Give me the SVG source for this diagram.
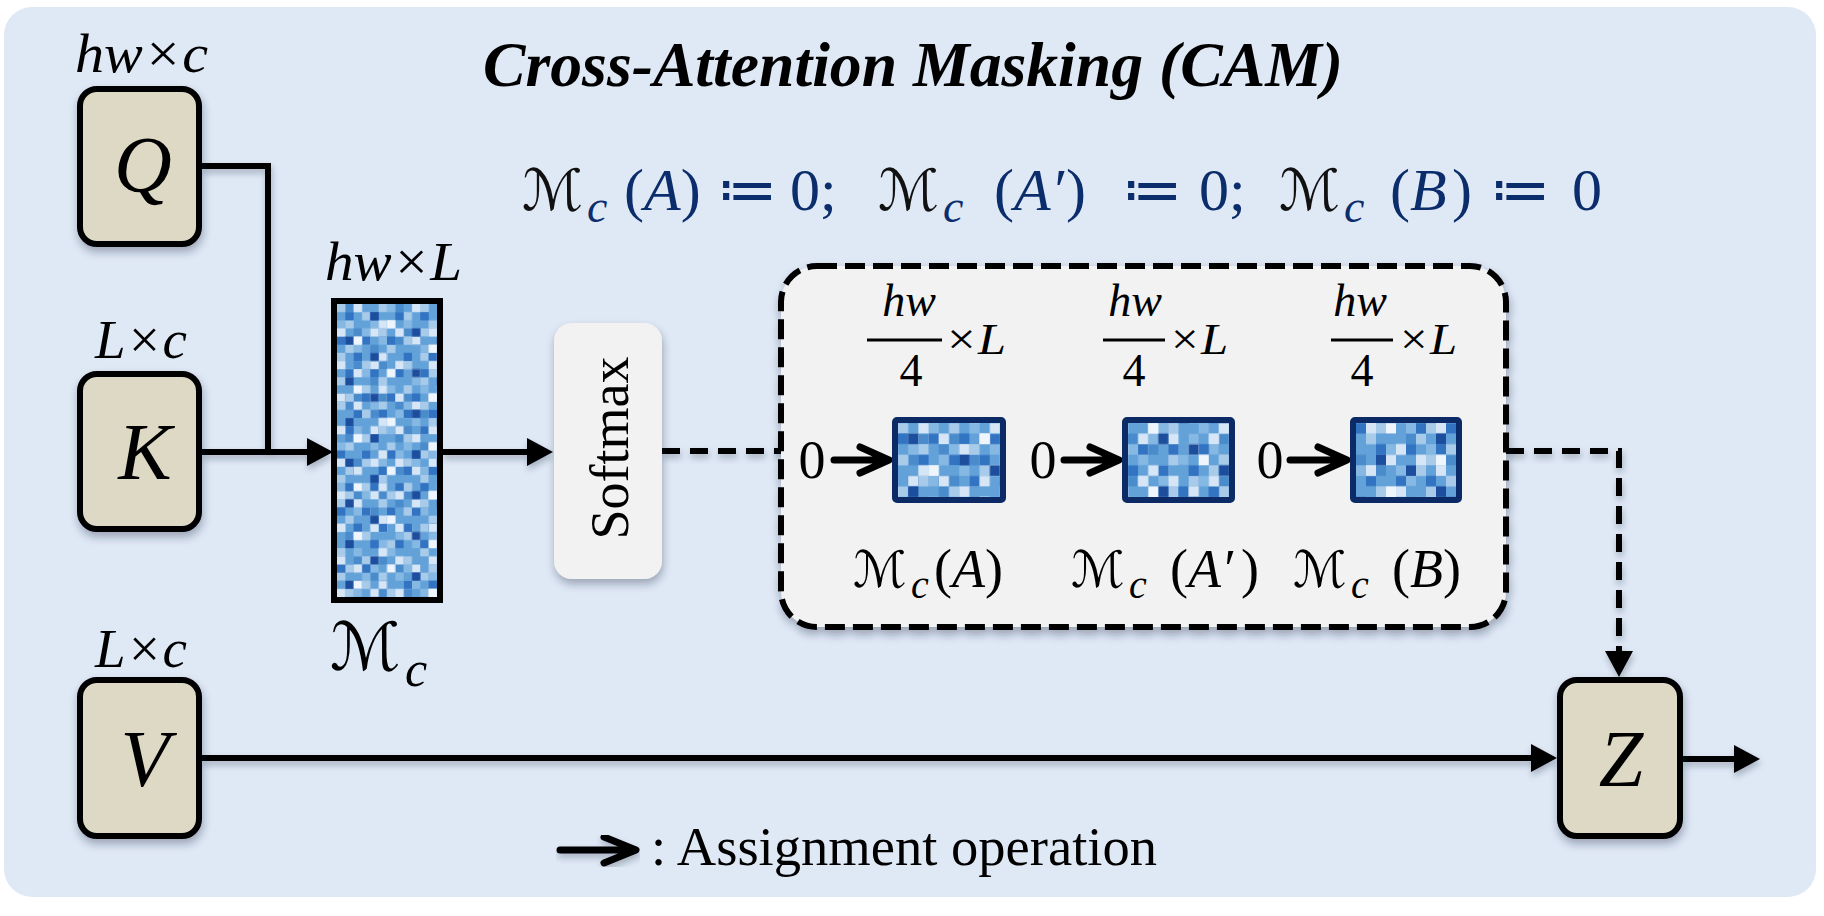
<svg xmlns="http://www.w3.org/2000/svg" width="1824" height="916" viewBox="0 0 1824 916">
<style>
.it{font-family:"Liberation Serif","Times New Roman",serif;font-style:italic}
.rm{font-family:"Liberation Serif","Times New Roman",serif}
.sc{font-family:"DejaVu Sans","DejaVu Serif",sans-serif;font-style:normal}
.node{fill:#ddd9c4;stroke:#000;stroke-width:6}
.ln{fill:none;stroke:#000;stroke-width:6}
.dash{stroke-dasharray:18 10}
.asg{fill:none;stroke:#000;stroke-width:7;stroke-linecap:round;stroke-linejoin:round}
.navy{fill:#0c2d6b}
.blk{fill:#111}
.frame{fill:none;stroke:#0b2a66;stroke-width:6}
</style>
<defs>
<filter id="sh" x="-20%" y="-20%" width="140%" height="150%"><feDropShadow dx="1" dy="5" stdDeviation="4" flood-color="#1a2a40" flood-opacity="0.35"/></filter>
<filter id="shl" x="-5%" y="-5%" width="110%" height="120%"><feDropShadow dx="1" dy="4" stdDeviation="3" flood-color="#1a2a40" flood-opacity="0.3"/></filter>
<marker id="ah" markerUnits="userSpaceOnUse" markerWidth="26" markerHeight="28" refX="15" refY="14" orient="auto"><path d="M0 0L26 14L0 28z" fill="#000"/></marker>
<pattern id="pa" width="5" height="3" patternUnits="userSpaceOnUse"><path fill="#a9cbea" d="M0 0h1v1h-1zM3 1h1v1h-1zM1 2h1v1h-1z"/></pattern>
<pattern id="pb" width="7" height="4" patternUnits="userSpaceOnUse"><path fill="#d6e6f6" d="M2 0h1v1h-1zM5 2h1v1h-1zM0 3h1v1h-1zM4 3h1v1h-1z"/></pattern>
<pattern id="pc" width="3" height="7" patternUnits="userSpaceOnUse"><path fill="#3273c2" d="M1 1h1v1h-1zM0 4h1v1h-1zM2 6h1v1h-1z"/></pattern>
<pattern id="pd" width="11" height="5" patternUnits="userSpaceOnUse"><path fill="#1d4e9e" d="M4 1h1v1h-1zM9 3h1v1h-1zM1 4h1v1h-1z"/></pattern>
<pattern id="pe" width="4" height="5" patternUnits="userSpaceOnUse"><path fill="#86b8e4" d="M2 0h1v1h-1zM0 2h1v1h-1zM3 3h1v1h-1zM1 4h1v1h-1z"/></pattern>
<pattern id="pf" width="6" height="4" patternUnits="userSpaceOnUse"><path fill="#4a8bcc" d="M1 0h1v1h-1zM4 1h1v1h-1zM2 3h1v1h-1zM5 3h1v1h-1z"/></pattern>
<pattern id="pg" width="13" height="6" patternUnits="userSpaceOnUse"><path fill="#eef5fc" d="M6 2h1v1h-1zM11 5h1v1h-1zM2 4h1v1h-1z"/></pattern>
<g id="cells">
<rect width="60" height="60" fill="#62a2d9"/>
<rect width="60" height="60" fill="url(#pf)"/>
<rect width="60" height="60" fill="url(#pe)"/>
<rect width="60" height="60" fill="url(#pa)"/>
<rect width="60" height="60" fill="url(#pc)"/>
<rect width="60" height="60" fill="url(#pb)"/>
<rect width="60" height="60" fill="url(#pd)"/>
<rect width="60" height="60" fill="url(#pg)"/>
</g>
</defs>

<rect x="0" y="0" width="1824" height="916" fill="#fff"/>
<rect id="panel" x="4" y="7" width="1812" height="890" rx="28" fill="#dfe8f5"/>

<text class="rm" x="483" y="86" font-size="64" font-weight="bold" font-style="italic" textLength="860" lengthAdjust="spacingAndGlyphs">Cross-Attention Masking (CAM)</text>

<text id="formula" class="rm navy" y="210" font-size="60"><tspan x="522" class="sc blk" font-size="57">ℳ</tspan><tspan x="587" y="222" class="it" font-size="46">c</tspan><tspan x="624" y="210">(</tspan><tspan class="it">A</tspan><tspan>)</tspan><tspan x="717">≔</tspan><tspan x="790">0;</tspan><tspan x="878" class="sc blk" font-size="57">ℳ</tspan><tspan x="943" y="222" class="it" font-size="46">c</tspan><tspan x="994" y="210">(</tspan><tspan class="it">A′</tspan><tspan x="1066">)</tspan><tspan x="1122">≔</tspan><tspan x="1199">0;</tspan><tspan x="1279" class="sc blk" font-size="57">ℳ</tspan><tspan x="1344" y="222" class="it" font-size="46">c</tspan><tspan x="1390" y="210">(</tspan><tspan class="it">B</tspan><tspan x="1452">)</tspan><tspan x="1490">≔</tspan><tspan x="1572">0</tspan></text>

<g id="connectors" filter="url(#shl)">
<path class="ln" d="M202 166H268V452"/>
<path class="ln" d="M202 452H322" marker-end="url(#ah)"/>
<path class="ln" d="M443 452H542" marker-end="url(#ah)"/>
<path class="ln dash" d="M662 451H781"/>
<path class="ln dash" d="M1506 451H1619V666" marker-end="url(#ah)"/>
<path class="ln" d="M202 758H1546" marker-end="url(#ah)"/>
<path class="ln" d="M1683 759H1749" marker-end="url(#ah)"/>
</g>

<g id="node-Q">
<text class="it" x="75" y="72" font-size="55" textLength="133" lengthAdjust="spacingAndGlyphs">hw×c</text>
<rect class="node" x="80" y="89" width="119" height="155" rx="17" filter="url(#sh)"/>
<text class="it" x="143" y="192" font-size="80" text-anchor="middle">Q</text>
</g>

<g id="node-K">
<text class="it" x="95" y="358" font-size="55" textLength="92" lengthAdjust="spacingAndGlyphs">L×c</text>
<rect class="node" x="80" y="374" width="119" height="155" rx="17" filter="url(#sh)"/>
<text class="it" x="145" y="479" font-size="80" text-anchor="middle">K</text>
</g>

<g id="node-V">
<text class="it" x="95" y="667" font-size="55" textLength="92" lengthAdjust="spacingAndGlyphs">L×c</text>
<rect class="node" x="80" y="680" width="119" height="156" rx="17" filter="url(#sh)"/>
<text class="it" x="145" y="786" font-size="80" text-anchor="middle">V</text>
</g>

<g id="node-Z">
<rect class="node" x="1560" y="680" width="120" height="156" rx="17" filter="url(#sh)"/>
<text class="it" x="1621" y="786" font-size="80" text-anchor="middle">Z</text>
</g>

<g id="node-Mc">
<text class="it" x="325" y="280" font-size="55" textLength="137" lengthAdjust="spacingAndGlyphs">hw×L</text>
<svg x="337" y="304" width="100" height="293" viewBox="0 0 12 36" preserveAspectRatio="none"><use href="#cells"/></svg>
<rect x="334" y="301" width="106" height="299" fill="none" stroke="#000" stroke-width="6"/>
<text class="it" y="670" font-size="50"><tspan x="330" class="sc" font-size="66">ℳ</tspan><tspan x="405" y="686">c</tspan></text>
</g>

<g id="node-softmax">
<rect x="554" y="323" width="108" height="256" rx="18" fill="#f2f2f2" filter="url(#sh)"/>
<text class="rm" transform="translate(628,448) rotate(-90)" font-size="54" text-anchor="middle" textLength="183" lengthAdjust="spacingAndGlyphs">Softmax</text>
</g>

<g id="node-mask">
<rect x="781" y="266" width="725" height="361" rx="36" fill="#f2f2f2" stroke="#000" stroke-width="6" stroke-dasharray="20 8" filter="url(#sh)"/>

<text class="it" x="909" y="316" font-size="46" text-anchor="middle">hw</text>
<line x1="867" y1="340" x2="942" y2="340" stroke="#000" stroke-width="3"/>
<text class="rm" x="911" y="386" font-size="46" text-anchor="middle">4</text>
<text class="it" x="944" y="354" font-size="44" textLength="62" lengthAdjust="spacingAndGlyphs">×L</text>

<text class="it" x="1135" y="316" font-size="46" text-anchor="middle">hw</text>
<line x1="1103" y1="340" x2="1165" y2="340" stroke="#000" stroke-width="3"/>
<text class="rm" x="1134" y="386" font-size="46" text-anchor="middle">4</text>
<text class="it" x="1168" y="354" font-size="44" textLength="60" lengthAdjust="spacingAndGlyphs">×L</text>

<text class="it" x="1360" y="316" font-size="46" text-anchor="middle">hw</text>
<line x1="1331" y1="340" x2="1393" y2="340" stroke="#000" stroke-width="3"/>
<text class="rm" x="1362" y="386" font-size="46" text-anchor="middle">4</text>
<text class="it" x="1397" y="354" font-size="44" textLength="60" lengthAdjust="spacingAndGlyphs">×L</text>

<text class="rm" x="812" y="478" font-size="54" text-anchor="middle">0</text>
<text class="rm" x="1043" y="478" font-size="54" text-anchor="middle">0</text>
<text class="rm" x="1270" y="478" font-size="54" text-anchor="middle">0</text>

<path class="asg" d="M834 460H886M860 447L889 460L860 473"/>
<path class="asg" d="M1064 460H1116M1090 447L1119 460L1090 473"/>
<path class="asg" d="M1290 460H1344M1318 447L1347 460L1318 473"/>

<svg x="898" y="423" width="102" height="74" viewBox="3 10 10 7" preserveAspectRatio="none"><use href="#cells"/></svg>
<rect class="frame" x="895" y="420" width="108" height="80" rx="2"/>
<svg x="1128" y="423" width="101" height="74" viewBox="17 2 10 7" preserveAspectRatio="none"><use href="#cells"/></svg>
<rect class="frame" x="1125" y="420" width="107" height="80" rx="2"/>
<svg x="1356" y="423" width="100" height="74" viewBox="29 20 10 7" preserveAspectRatio="none"><use href="#cells"/></svg>
<rect class="frame" x="1353" y="420" width="106" height="80" rx="2"/>

<text class="rm" y="587" font-size="54"><tspan x="853" class="sc" font-size="50">ℳ</tspan><tspan x="911" y="598" class="it" font-size="40">c</tspan><tspan x="934" y="587">(</tspan><tspan class="it">A</tspan><tspan>)</tspan></text>
<text class="rm" y="587" font-size="54"><tspan x="1071" class="sc" font-size="50">ℳ</tspan><tspan x="1129" y="598" class="it" font-size="40">c</tspan><tspan x="1170" y="587">(</tspan><tspan class="it">A′</tspan><tspan x="1241">)</tspan></text>
<text class="rm" y="587" font-size="54"><tspan x="1293" class="sc" font-size="50">ℳ</tspan><tspan x="1351" y="598" class="it" font-size="40">c</tspan><tspan x="1392" y="587">(</tspan><tspan class="it">B</tspan><tspan>)</tspan></text>
</g>

<g id="legend">
<path class="asg" d="M560 850H632M604 837L636 850L604 863" filter="url(#shl)"/>
<text class="rm" x="651" y="865" font-size="54" textLength="506" lengthAdjust="spacingAndGlyphs">: Assignment operation</text>
</g>
</svg>
